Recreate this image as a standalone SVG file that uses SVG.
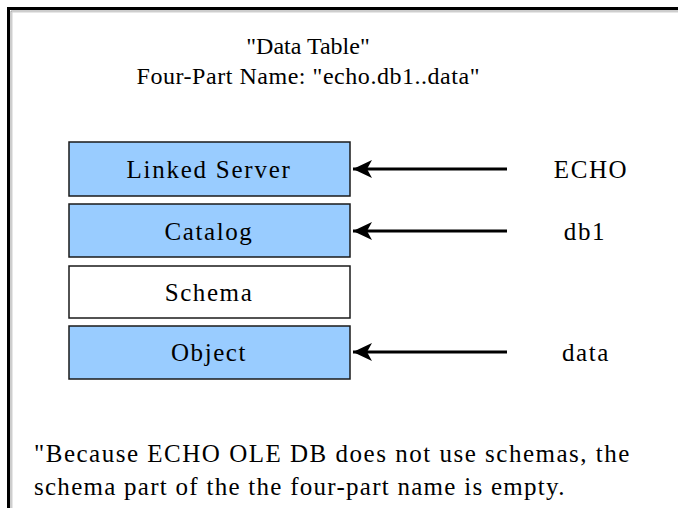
<svg xmlns="http://www.w3.org/2000/svg" width="678" height="508" viewBox="0 0 678 508">
  <style>
    .t { font-family: "Liberation Serif", "Times New Roman", serif; font-size: 25px; letter-spacing: 1.6px; fill: #000; }
    .h { font-family: "Liberation Serif", "Times New Roman", serif; font-size: 24px; fill: #000; }
    .c { text-anchor: middle; }
    .part { stroke: #1a1a1a; stroke-width: 1.5; }
    .filled { fill: #99ccff; }
    .empty { fill: #ffffff; }
    .conn { stroke: #000; stroke-width: 3; fill: none; marker-end: url(#head); }
  </style>
  <defs>
    <marker id="head" markerUnits="userSpaceOnUse" markerWidth="20" markerHeight="18" refX="19" refY="9" orient="auto">
      <path d="M0,0 L19,9 L0,18 L5,9 Z" fill="#000"/>
    </marker>
  </defs>

  <rect width="678" height="508" fill="#ffffff"/>

  <!-- frame: top and left edges with a soft inner shade -->
  <g id="frame">
    <path d="M8.5,508 V8.5 H678" fill="none" stroke="#000" stroke-width="3"/>
    <path d="M11,508 V11 H678" fill="none" stroke="#9a9a9a" stroke-width="1"/>
    <path d="M12,508 V12 H678" fill="none" stroke="#d0d0d0" stroke-width="1"/>
  </g>

  <g id="title">
    <text class="h c" x="308" y="54">"Data Table"</text>
    <text class="h c" x="308" y="84" textLength="343">Four-Part Name: "echo.db1..data"</text>
  </g>

  <g id="linked-server">
    <rect class="part filled" x="69" y="142" width="281" height="54"/>
    <text class="t c" x="209" y="178" textLength="165">Linked Server</text>
  </g>
  <g id="catalog">
    <rect class="part filled" x="69" y="204" width="281" height="53"/>
    <text class="t c" x="209" y="240">Catalog</text>
  </g>
  <g id="schema">
    <rect class="part empty" x="69" y="266" width="281" height="52"/>
    <text class="t c" x="209" y="301">Schema</text>
  </g>
  <g id="object">
    <rect class="part filled" x="69" y="326" width="281" height="53"/>
    <text class="t c" x="209" y="361">Object</text>
  </g>

  <g id="label-echo"><text class="t c" x="591" y="178">ECHO</text></g>
  <g id="label-db1"><text class="t c" x="585" y="240">db1</text></g>
  <g id="label-data"><text class="t c" x="586" y="361">data</text></g>

  <g id="connectors">
    <line class="conn" x1="507" y1="169" x2="353" y2="169"/>
    <line class="conn" x1="507" y1="231" x2="353" y2="231"/>
    <line class="conn" x1="507" y1="352" x2="353" y2="352"/>
  </g>

  <g id="note">
    <text class="t" x="34" y="462" textLength="597">"Because ECHO OLE DB  does not use schemas, the</text>
    <text class="t" x="34" y="495" textLength="532">schema part of the the four-part name is empty.</text>
  </g>
</svg>
